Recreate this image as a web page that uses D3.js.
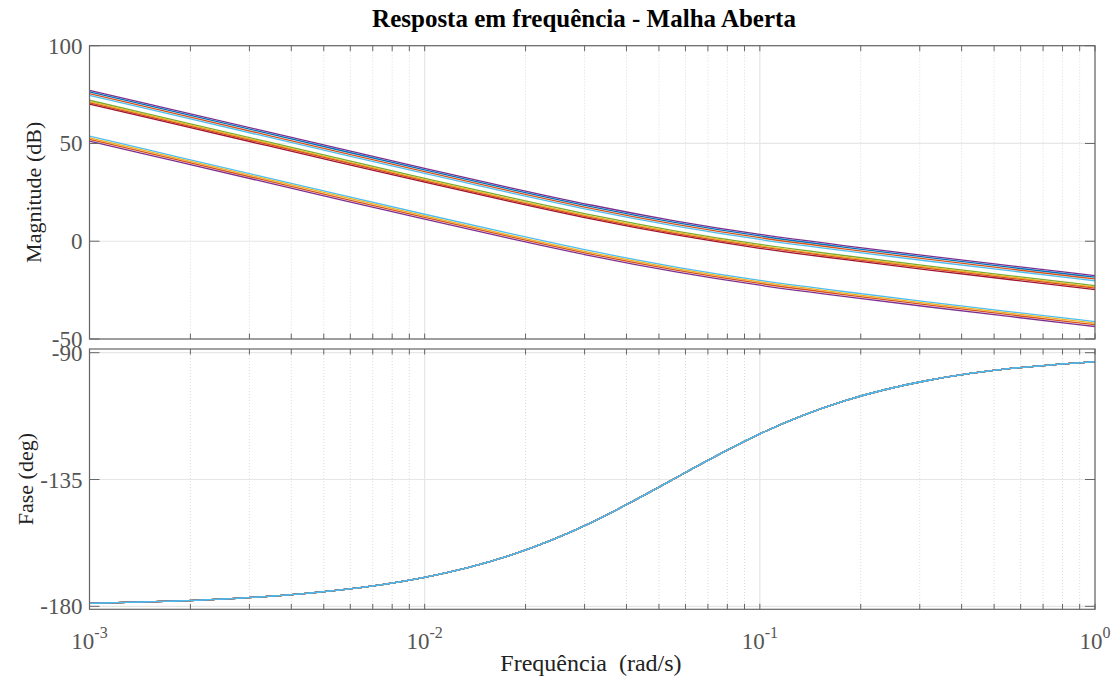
<!DOCTYPE html>
<html>
<head>
<meta charset="utf-8">
<script src="https://cdn.jsdelivr.net/npm/d3@7"></script>
<style>
  html, body { margin: 0; padding: 0; background: #fff; }
  svg text { font-family: "Liberation Serif", "DejaVu Serif", serif; }
</style>
</head>
<body>
<svg id="chart" width="1120" height="680"></svg>
<script>
// Frequencies (rad/s), quarter-decade steps from 1e-3 to 1e0
const freqExp = [-3, -2.75, -2.5, -2.25, -2, -1.75, -1.5, -1.25, -1, -0.75, -0.5, -0.25, 0];

// Magnitude of the uppermost response (dB) at each frequency
const magTop = [77.2, 67.2, 57.2, 47.2, 37.3, 27.6, 18.4, 10.3, 3.5, -2.2, -7.5, -12.6, -17.6];

// Gain of each loop variant relative to the uppermost one (dB) and its colour
const gainShift = [0, -0.8, -1.7, -2.6, -5.1, -5.8, -6.4, -7.1, -23.5, -24.3, -25.1, -26.0];
const lineColors = ["#7E2F8E", "#0072BD", "#D95319", "#4DBEEE",
                    "#77AC30", "#EDB120", "#D95319", "#A2142F",
                    "#4DBEEE", "#EDB120", "#D95319", "#7E2F8E"];

// Phase (deg) — identical for every variant
const phase = [-178.96, -178.15, -176.71, -174.16, -169.7, -162.08, -150.1,
               -134.36, -118.81, -107.19, -99.87, -95.59, -93.15];

const magTicks = [-50, 0, 50, 100];
const phaseTicks = [-180, -135, -90];
const decadeTicks = [-3, -2, -1, 0];

const FONT = "Liberation Serif, DejaVu Serif, serif";
const svg = d3.select("#chart").attr("font-family", FONT);
const left = 89.5, right = 1095;
const magTop_y = 45.7, magBottom_y = 339;
const phTop_y = 349, phBottom_y = 609.3;

const x = d3.scaleLog().domain([1e-3, 1]).range([left, right]);
const yMag = d3.scaleLinear().domain([-50, 100]).range([magBottom_y, magTop_y]);
const yPh = d3.scaleLinear().domain([-181.06, -88.69]).range([phBottom_y, phTop_y]);

const freqs = freqExp.map(e => Math.pow(10, e));
const minorFreqs = [];
for (let d = -3; d < 0; d++) for (let m = 2; m <= 9; m++) minorFreqs.push(m * Math.pow(10, d));

const axisColor = "#666";
const textColor = "#555";

function panel(y, top, bottom, yTicks, clipId) {
  const g = svg.append("g");
  // minor grid
  g.selectAll(".mg").data(minorFreqs).join("line")
    .attr("x1", d => x(d)).attr("x2", d => x(d))
    .attr("y1", top).attr("y2", bottom)
    .attr("stroke", "#dcdcdc").attr("stroke-width", 1)
    .attr("stroke-dasharray", "1,2");
  // major grid
  g.selectAll(".Mg").data(decadeTicks).join("line")
    .attr("x1", d => x(Math.pow(10, d))).attr("x2", d => x(Math.pow(10, d)))
    .attr("y1", top).attr("y2", bottom)
    .attr("stroke", "#e6e6e6").attr("stroke-width", 1.2);
  g.selectAll(".hg").data(yTicks).join("line")
    .attr("x1", left).attr("x2", right)
    .attr("y1", d => y(d)).attr("y2", d => y(d))
    .attr("stroke", "#e6e6e6").attr("stroke-width", 1.2);

  svg.append("clipPath").attr("id", clipId).append("rect")
    .attr("x", left).attr("y", top).attr("width", right - left).attr("height", bottom - top);
}

function frame(y, top, bottom, yTicks, showX) {
  const g = svg.append("g");
  // bottom and top ticks
  const xt = minorFreqs.concat(decadeTicks.map(d => Math.pow(10, d)));
  g.selectAll(".tb").data(xt).join("line")
    .attr("x1", d => x(d)).attr("x2", d => x(d))
    .attr("y1", bottom).attr("y2", bottom - 5.5)
    .attr("stroke", axisColor).attr("stroke-width", 1);
  g.selectAll(".tt").data(xt).join("line")
    .attr("x1", d => x(d)).attr("x2", d => x(d))
    .attr("y1", top).attr("y2", top + 5.5)
    .attr("stroke", axisColor).attr("stroke-width", 1);
  // left and right ticks
  g.selectAll(".tl").data(yTicks).join("line")
    .attr("x1", left).attr("x2", left + 10)
    .attr("y1", d => y(d)).attr("y2", d => y(d))
    .attr("stroke", axisColor).attr("stroke-width", 1);
  g.selectAll(".tr").data(yTicks).join("line")
    .attr("x1", right).attr("x2", right - 10)
    .attr("y1", d => y(d)).attr("y2", d => y(d))
    .attr("stroke", axisColor).attr("stroke-width", 1);
  // box
  g.append("rect").attr("x", left).attr("y", top)
    .attr("width", right - left).attr("height", bottom - top)
    .attr("fill", "none").attr("stroke", axisColor).attr("stroke-width", 1.2);
  // y tick labels
  g.selectAll(".yl").data(yTicks).join("text")
    .attr("x", left - 7).attr("y", d => y(d) + 8)
    .attr("font-family", FONT)
    .attr("text-anchor", "end").attr("font-size", 23).attr("fill", textColor)
    .text(d => d);
  if (showX) {
    const lab = g.selectAll(".xl").data(decadeTicks).join("text")
      .attr("x", d => x(Math.pow(10, d))).attr("y", bottom + 40)
      .attr("font-family", FONT)
      .attr("text-anchor", "middle").attr("fill", textColor);
    lab.append("tspan").attr("font-size", 23).text("10");
    lab.append("tspan").attr("font-size", 16).attr("dy", -11).text(d => d === 0 ? "0" : "-" + Math.abs(d));
  }
}

panel(yMag, magTop_y, magBottom_y, magTicks, "clipMag");
panel(yPh, phTop_y, phBottom_y, phaseTicks, "clipPh");

const lineMag = d3.line().x((d, i) => x(freqs[i])).y(d => yMag(d)).curve(d3.curveNatural);
const linePh = d3.line().x((d, i) => x(freqs[i])).y(d => yPh(d)).curve(d3.curveNatural);

const magLayer = svg.append("g").attr("clip-path", "url(#clipMag)");
gainShift.forEach((s, k) => {
  magLayer.append("path")
    .datum(magTop.map(v => v + s))
    .attr("d", lineMag)
    .attr("fill", "none").attr("stroke", lineColors[k]).attr("stroke-width", 1.3);
});

// Phase curves are coincident; cyan ones are drawn last so they sit on top
const phOrder = d3.range(gainShift.length)
  .sort((a, b) => (lineColors[a] === "#4DBEEE") - (lineColors[b] === "#4DBEEE") || a - b);
const phLayer = svg.append("g").attr("clip-path", "url(#clipPh)");
phOrder.forEach(k => {
  phLayer.append("path")
    .datum(phase)
    .attr("d", linePh)
    .attr("fill", "none").attr("stroke", lineColors[k]).attr("stroke-width", 1.3);
});

frame(yMag, magTop_y, magBottom_y, magTicks, false);
frame(yPh, phTop_y, phBottom_y, phaseTicks, true);

// Titles and axis labels
svg.append("text").attr("x", 584).attr("y", 27)
  .attr("font-family", FONT)
  .attr("text-anchor", "middle").attr("font-size", 25).attr("font-weight", "bold")
  .attr("fill", "#000").text("Resposta em frequência - Malha Aberta");

svg.append("text").attr("transform", `translate(41, ${(magTop_y + magBottom_y) / 2}) rotate(-90)`)
  .attr("font-family", FONT)
  .attr("text-anchor", "middle").attr("font-size", 22).attr("fill", "#222")
  .text("Magnitude (dB)");

svg.append("text").attr("transform", `translate(33, ${(phTop_y + phBottom_y) / 2}) rotate(-90)`)
  .attr("font-family", FONT)
  .attr("text-anchor", "middle").attr("font-size", 22).attr("fill", "#222")
  .text("Fase (deg)");

svg.append("text").attr("x", 591).attr("y", 671)
  .attr("font-family", FONT)
  .attr("text-anchor", "middle").attr("font-size", 24).attr("fill", "#222")
  .style("white-space", "pre")
  .text("Frequência  (rad/s)");
</script>
</body>
</html>
